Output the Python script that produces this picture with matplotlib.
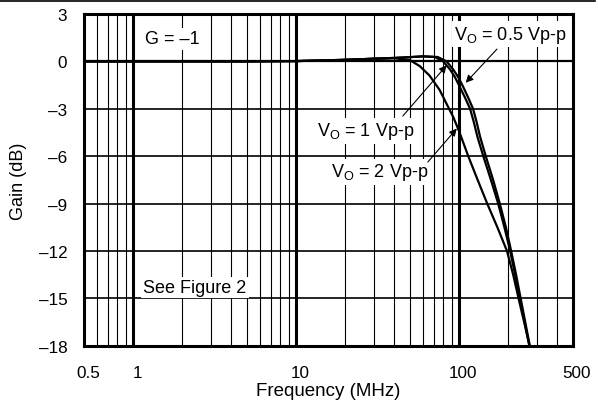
import numpy as np
import matplotlib
matplotlib.use('Agg')
import matplotlib.pyplot as plt
import matplotlib.transforms as mtransforms
from matplotlib.lines import Line2D

plt.rcParams['font.family'] = ['Liberation Sans', 'DejaVu Sans']
plt.rcParams['mathtext.fontset'] = 'custom'
plt.rcParams['mathtext.rm'] = 'Liberation Sans'
plt.rcParams['mathtext.it'] = 'Liberation Sans'

# Datos
f_05 = [0.5, 5, 10, 20, 30, 40, 50, 60, 74, 84, 92, 99, 106, 114, 122, 128, 135, 146, 162, 178, 194, 209, 224, 239, 255, 272]
g_05 = [0, 0, 0.02, 0.1, 0.17, 0.22, 0.27, 0.32, 0.28, 0.0, -0.5, -1.0, -1.6, -2.3, -3.0, -3.8, -4.8, -6.0, -7.5, -9.0, -10.5, -12.0, -13.5, -15.0, -16.5, -18.0]

f_1 = [0.5, 5, 10, 20, 30, 40, 50, 60, 71, 80, 88, 94.5, 101, 109, 117, 123, 130, 141, 157, 174, 190, 206, 221, 236, 253, 270]
g_1 = [0, 0, 0.02, 0.1, 0.17, 0.22, 0.27, 0.32, 0.28, 0.0, -0.5, -1.0, -1.6, -2.3, -3.0, -3.8, -4.8, -6.0, -7.5, -9.0, -10.5, -12.0, -13.5, -15.0, -16.5, -18.0]

f_2 = [0.5, 5, 10, 20, 30, 40, 50, 57.5, 66, 76, 85, 92, 100, 114, 129, 149, 172, 197, 215, 232, 251, 271]
g_2 = [0, 0, 0.02, 0.1, 0.17, 0.2, 0.08, -0.3, -0.9, -1.8, -2.8, -3.5, -4.4, -6.0, -7.4, -9.0, -10.5, -12.0, -13.5, -15.0, -16.5, -18.0]

x_ticks = [0.5, 1, 10, 100, 500]
x_labels = ['0.5', '1', '10', '100', '500']
y_ticks = [3, 0, -3, -6, -9, -12, -15, -18]
y_labels = ['3', '0', '\u20133', '\u20136', '\u20139', '\u201312', '\u201315', '\u201318']

fig = plt.figure(figsize=(5.98, 4.06), dpi=100)
ax = fig.add_axes([0.1405, 0.146, 0.8175, 0.817])

# Cuadrícula
minors = [m * d for d in [0.1, 1, 10, 100] for m in range(2, 10) if 0.5 < m * d < 500]
for v in minors:
    ax.axvline(v, color='black', lw=0.8, zorder=1)
for v in [1, 10, 100]:
    ax.axvline(v, color='black', lw=2.2, zorder=1)
for v in y_ticks:
    ax.axhline(v, color='black', lw=1.6 if v == 0 else 1.2, zorder=1)

ax.plot(f_2, g_2, color='black', lw=1.6, zorder=3)
ax.plot(f_1, g_1, color='black', lw=1.6, zorder=3)
ax.plot(f_05, g_05, color='black', lw=1.6, zorder=3)

ax.set_xscale('log')
ax.set_xlim(0.5, 500)
ax.set_ylim(-18, 3)
ax.set_xticks(x_ticks)
ax.set_xticklabels(x_labels)
ax.set_xticks([], minor=True)
ax.set_yticks(y_ticks)
ax.set_yticklabels(y_labels)
ax.tick_params(length=0, labelsize=12.3)
ax.tick_params(axis='y', pad=12)
ax.tick_params(axis='x', pad=14)
shift = mtransforms.ScaledTranslation(4 / 100, 0, fig.dpi_scale_trans)
for lbl in ax.get_xticklabels():
    lbl.set_transform(lbl.get_transform() + shift)
for s in ax.spines.values():
    s.set_linewidth(2.2)

ax.set_xlabel('Frequency (MHz)', fontsize=13.5, labelpad=1)
ax.set_ylabel('Gain (dB)', fontsize=13, labelpad=8)

box = dict(facecolor='white', edgecolor='none', pad=1.5)
ax.text(1.74, 1.42, 'G = \u20131', fontsize=13, ha='center', va='center', bbox=box, zorder=4)
ax.text(2.4, -14.3, 'See Figure 2', fontsize=13, ha='center', va='center', bbox=box, zorder=4)
ax.text(206, 1.73, 'V$_\\mathrm{O}$ = 0.5 Vp-p', fontsize=13, ha='center', va='center', bbox=box, zorder=4)
ax.text(26.8, -4.4, 'V$_\\mathrm{O}$ = 1 Vp-p', fontsize=13, ha='center', va='center', bbox=box, zorder=4)
ax.text(32.7, -7.0, 'V$_\\mathrm{O}$ = 2 Vp-p', fontsize=13, ha='center', va='center', bbox=box, zorder=4)

arrow = dict(arrowstyle='-|>', color='black', lw=0.8, mutation_scale=11, shrinkA=0, shrinkB=0)
ax.annotate('', xy=(110, -1.35), xytext=(171, 0.78), arrowprops=arrow, zorder=5)
ax.annotate('', xy=(84, -0.25), xytext=(45.2, -3.46), arrowprops=arrow, zorder=5)
ax.annotate('', xy=(97, -4.25), xytext=(64.4, -6.37), arrowprops=arrow, zorder=5)

fig.add_artist(Line2D([0, 0.995], [0.996, 0.996], color='black', lw=1.2, transform=fig.transFigure))

fig.savefig('out.png', dpi=100)
